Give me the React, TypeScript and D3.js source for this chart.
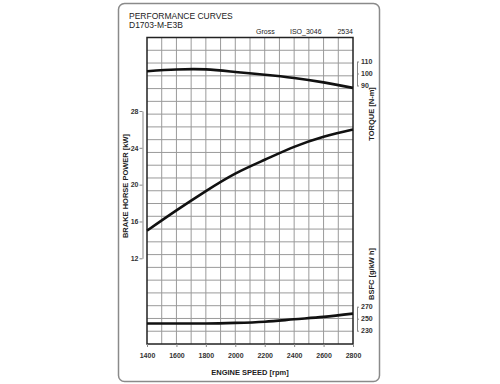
import React, { useRef, useEffect } from "react";
import * as d3 from "d3";

// engine speed points [rpm]
const rpm = [1400, 1600, 1800, 2000, 2200, 2400, 2600, 2800];
// brake horse power [kW]
const power = [15.0, 17.2, 19.3, 21.2, 22.7, 24.1, 25.2, 26.0];
// torque [N-m]
const torque = [101.9, 103.3, 103.4, 101.3, 99.0, 96.3, 92.6, 88.0];
// bsfc [g/kW h]
const bsfc = [242, 242, 242, 243, 245, 249, 253, 258.5];

const rpmTicks = [1400, 1600, 1800, 2000, 2200, 2400, 2600, 2800];
const powerTicks = [12, 16, 20, 24, 28];
const torqueTicks = [90, 100, 110];
const bsfcTicks = [230, 250, 270];

export default function App() {
  const ref = useRef<SVGSVGElement>(null);

  const left = 147;
  const right = 353;
  const top = 37.5;
  const bottom = 344;
  const font = "'Liberation Sans', Arial, sans-serif";

  useEffect(() => {
    const svg = d3.select(ref.current);
    svg.selectAll("*").remove();

    const x = d3.scaleLinear().domain([1400, 2800]).range([left, right]);
    const yPow = d3.scaleLinear().domain([12, 28]).range([258.3, 111]);
    const yTq = d3.scaleLinear().domain([90, 110]).range([85.5, 61.5]);
    const yBs = d3.scaleLinear().domain([230, 270]).range([330.7, 306.7]);

    svg.append("rect").attr("width", 500).attr("height", 384).attr("fill", "#fff");

    // outer frame
    svg
      .append("rect")
      .attr("x", 118.5)
      .attr("y", 3.5)
      .attr("width", 261)
      .attr("height", 378)
      .attr("rx", 6)
      .attr("fill", "none")
      .attr("stroke", "#8a8a8a")
      .attr("stroke-width", 1.5);

    // grid
    const grid = svg.append("g").attr("stroke", "#9a9a9a").attr("stroke-width", 1);
    grid
      .selectAll("line.v")
      .data(d3.range(1, 14))
      .join("line")
      .attr("class", "v")
      .attr("x1", (d) => x(1400 + d * 100))
      .attr("x2", (d) => x(1400 + d * 100))
      .attr("y1", top)
      .attr("y2", bottom);
    grid
      .selectAll("line.h")
      .data(d3.range(1, 24))
      .join("line")
      .attr("class", "h")
      .attr("x1", left)
      .attr("x2", right)
      .attr("y1", (d) => top + (d * (bottom - top)) / 24)
      .attr("y2", (d) => top + (d * (bottom - top)) / 24);

    svg
      .append("rect")
      .attr("x", left)
      .attr("y", top)
      .attr("width", right - left)
      .attr("height", bottom - top)
      .attr("fill", "none")
      .attr("stroke", "#222")
      .attr("stroke-width", 1.5);

    // curves
    const curve = (yScale: d3.ScaleLinear<number, number>, vals: number[]) =>
      d3
        .line<number>()
        .x((_, i) => x(rpm[i]))
        .y((d) => yScale(d))
        .curve(d3.curveNatural)(vals);

    [
      [yTq, torque],
      [yPow, power],
      [yBs, bsfc],
    ].forEach(([s, v]: any) => {
      svg
        .append("path")
        .attr("d", curve(s, v))
        .attr("fill", "none")
        .attr("stroke", "#111")
        .attr("stroke-width", 2.6);
    });

    const styleAxis = (g: any, anchor: string) => {
      g.select(".domain").attr("stroke", "#888");
      g.selectAll(".tick line").attr("stroke", "#888");
      g.selectAll(".tick text")
        .attr("font-family", font)
        .attr("font-size", 7)
        .attr("font-weight", "bold")
        .attr("fill", "#333")
        .attr("text-anchor", anchor);
    };

    // power axis
    svg
      .append("g")
      .attr("transform", "translate(142.5,0)")
      .call(d3.axisLeft(yPow).tickValues(powerTicks).tickSize(3).tickSizeOuter(0).tickPadding(1))
      .call((g) => styleAxis(g, "end"));

    // torque axis
    svg
      .append("g")
      .attr("transform", "translate(357,0)")
      .call(d3.axisRight(yTq).tickValues(torqueTicks).tickSize(2).tickSizeOuter(0).tickPadding(2))
      .call((g) => styleAxis(g, "start"));

    // bsfc axis
    svg
      .append("g")
      .attr("transform", "translate(357,0)")
      .call(d3.axisRight(yBs).tickValues(bsfcTicks).tickSize(2).tickSizeOuter(0).tickPadding(2))
      .call((g) => styleAxis(g, "start"));

    // rpm axis
    svg
      .append("g")
      .attr("transform", `translate(0,${bottom})`)
      .call(
        d3
          .axisBottom(x)
          .tickValues(rpmTicks)
          .tickFormat(d3.format("d"))
          .tickSize(3)
          .tickSizeOuter(0)
          .tickPadding(6)
      )
      .call((g) => {
        styleAxis(g, "middle");
        g.select(".domain").remove();
      });

    const label = (
      t: string,
      tx: number,
      ty: number,
      rot: number,
      size: number,
      anchor = "middle",
      weight = "bold"
    ) =>
      svg
        .append("text")
        .attr("transform", `translate(${tx},${ty}) rotate(${rot})`)
        .attr("text-anchor", anchor)
        .attr("font-family", font)
        .attr("font-size", size)
        .attr("font-weight", weight)
        .attr("fill", "#222")
        .text(t);

    label("PERFORMANCE CURVES", 129, 19, 0, 8.5, "start", "normal");
    label("D1703-M-E3B", 129, 28, 0, 8.5, "start", "normal");
    label("Gross", 256, 34, 0, 7, "start", "normal");
    label("ISO_3046", 290, 34, 0, 7, "start", "normal");
    label("2534", 353, 34, 0, 7, "end", "normal");
    label("BRAKE HORSE POWER [kW]", 128, 186, -90, 7.5);
    label("TORQUE [N-m]", 374, 114, -90, 7.5);
    label("BSFC [g/kW h]", 374, 274, -90, 7.5);
    label("ENGINE SPEED [rpm]", 250, 375, 0, 7.5);
  }, []);

  return (
    <svg
      ref={ref}
      width={500}
      height={384}
      style={{ position: "absolute", left: 0, top: 0, display: "block" }}
    />
  );
}
